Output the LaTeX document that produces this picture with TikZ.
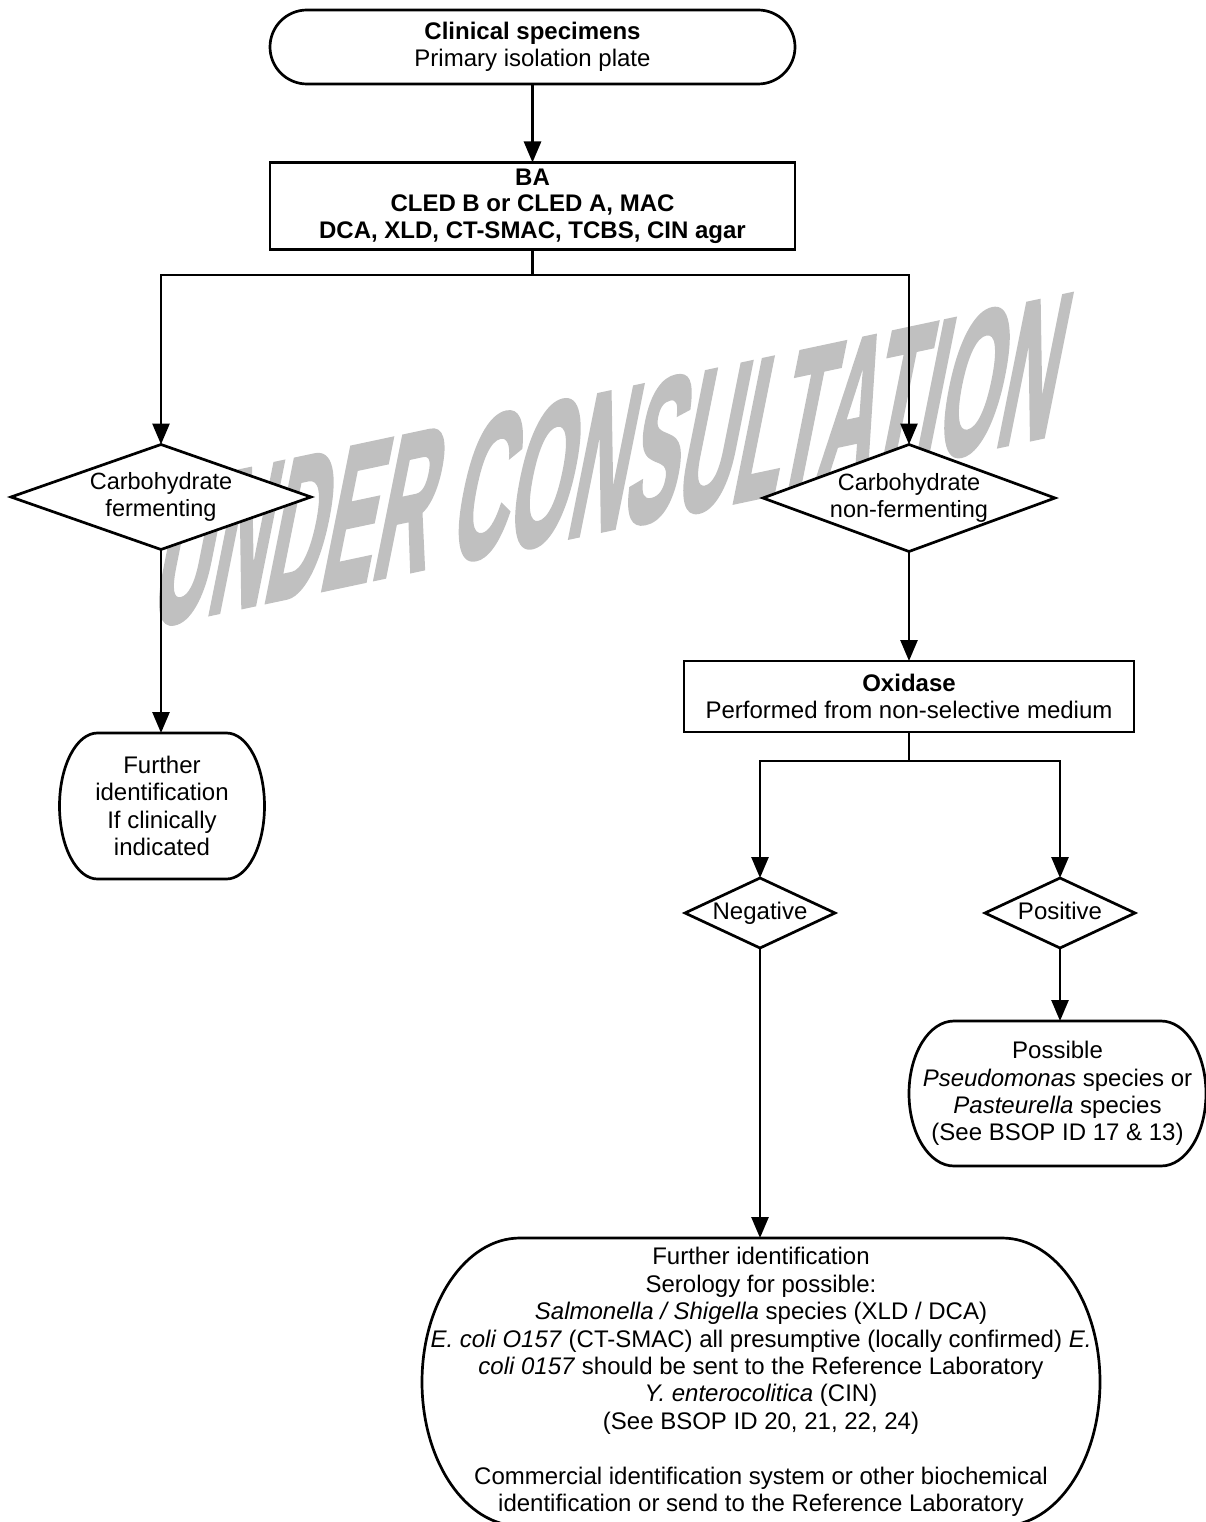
\documentclass[tikz,border=0pt]{standalone}
\usepackage{fontspec}
\setmainfont{Liberation Sans}
\newfontfamily\wmfont[FakeBold=2.5]{Liberation Sans Bold}
\usetikzlibrary{shapes.geometric,arrows.meta}
\definecolor{wmgray}{RGB}{192,192,192}
\newcommand\stadium[3]{%
  \draw[ln] ([xshift=#2]#1.north west) -- ([xshift=-#2]#1.north east)
    arc[start angle=90,end angle=-90,x radius=#2,y radius=#3]
    -- ([xshift=#2]#1.south west)
    arc[start angle=270,end angle=90,x radius=#2,y radius=#3] -- cycle;}
\tikzset{
  ln/.style={line width=2.7pt},
  arr/.style={ln,-{Triangle[length=21pt,width=17pt]}},
  txt/.style={font=\fontsize{24}{27.4}\selectfont,align=center,inner sep=0pt,outer sep=0pt},
  stxt/.style={txt,text height=17pt,text depth=5pt},
  dtxt/.style={font=\fontsize{23.5}{27}\selectfont,align=center,inner sep=0pt,outer sep=0pt},
  boxn/.style={draw,ln,rectangle,fill=white,inner sep=0pt,outer sep=0pt,align=center,font=\fontsize{24}{27.4}\selectfont},
  dia/.style={draw,ln,diamond,fill=white,inner sep=0pt,outer sep=0pt},
}
\begin{document}
\begin{tikzpicture}[x=1pt,y=1pt]
\useasboundingbox (0,0) rectangle (1206,-1522);
% watermark
\begin{scope}[shift={(613,-460)},cm={0.39,0.083,0.206,1.03,(0,0)}]
\node[transform shape,text=wmgray,inner sep=0pt,font=\fontsize{200}{200}\wmfont] (wm) at (0,0) {UNDER CONSULTATION};
\end{scope}
% nodes
\node[txt,minimum width=525pt,minimum height=74pt] (start) at (532.5,-47) {\textbf{Clinical specimens}\\Primary isolation plate};
\stadium{start}{37pt}{37pt}
\node[boxn,minimum width=525pt,minimum height=87pt,font=\fontsize{24}{26.5}\selectfont\bfseries] (ba) at (532.5,-206) {BA\\CLED B or CLED A, MAC\\DCA, XLD, CT-SMAC, TCBS, CIN agar};
\node[dia,minimum width=300pt,minimum height=105pt,label={[dtxt]center:Carbohydrate\\fermenting}] (ferm) at (161,-497) {};
\node[dia,minimum width=292pt,minimum height=107pt,label={[dtxt]center:Carbohydrate\\non-fermenting}] (nonferm) at (909,-498) {};
\node[txt,minimum width=205pt,minimum height=146pt] (furtherL) at (162,-806) {Further\\identification\\If clinically\\indicated};
\stadium{furtherL}{38pt}{73pt}
\node[boxn,minimum width=450pt,minimum height=71pt] (ox) at (909,-696.5) {\textbf{Oxidase}\\Performed from non-selective medium};
\node[dia,minimum width=150pt,minimum height=70pt,label={[stxt]center:Negative}] (neg) at (760,-913) {};
\node[dia,minimum width=150pt,minimum height=70pt,label={[stxt]center:Positive}] (pos) at (1060,-913) {};
\node[txt,minimum width=297pt,minimum height=145pt] (possible) at (1057.5,-1093.5) {Possible\\\textit{Pseudomonas} species or\\\textit{Pasteurella} species\\(See BSOP ID 17 \& 13)};
\stadium{possible}{45pt}{72.5pt}
\node[txt,minimum width=678pt,minimum height=288pt] (further) at (761,-1382) {Further identification\\Serology for possible:\\\textit{Salmonella / Shigella} species (XLD / DCA)\\\textit{E. coli O157} (CT-SMAC) all presumptive (locally confirmed) \textit{E.}\\\textit{coli 0157} should be sent to the Reference Laboratory\\\textit{Y. enterocolitica} (CIN)\\(See BSOP ID 20, 21, 22, 24)\\[27.4pt]Commercial identification system or other biochemical\\identification or send to the Reference Laboratory};
\stadium{further}{98pt}{144pt}
% connectors
\coordinate (j1) at (532.5,-275);
\coordinate (j2) at (909,-761);
\draw[arr] (start) -- (ba);
\draw[ln] (ba.south) -- (j1);
\draw[arr] (j1) -| (ferm.north);
\draw[arr] (j1) -| (nonferm.north);
\draw[arr] (ferm.south) -- (ferm.south |- furtherL.north);
\draw[arr] (nonferm.south) -- (ox.north);
\draw[ln] (ox.south) -- (j2);
\draw[arr] (j2) -| (neg.north);
\draw[arr] (j2) -| (pos.north);
\draw[arr] (pos.south) -- (pos.south |- possible.north);
\draw[arr] (neg.south) -- (neg.south |- further.north);
\end{tikzpicture}
\end{document}
